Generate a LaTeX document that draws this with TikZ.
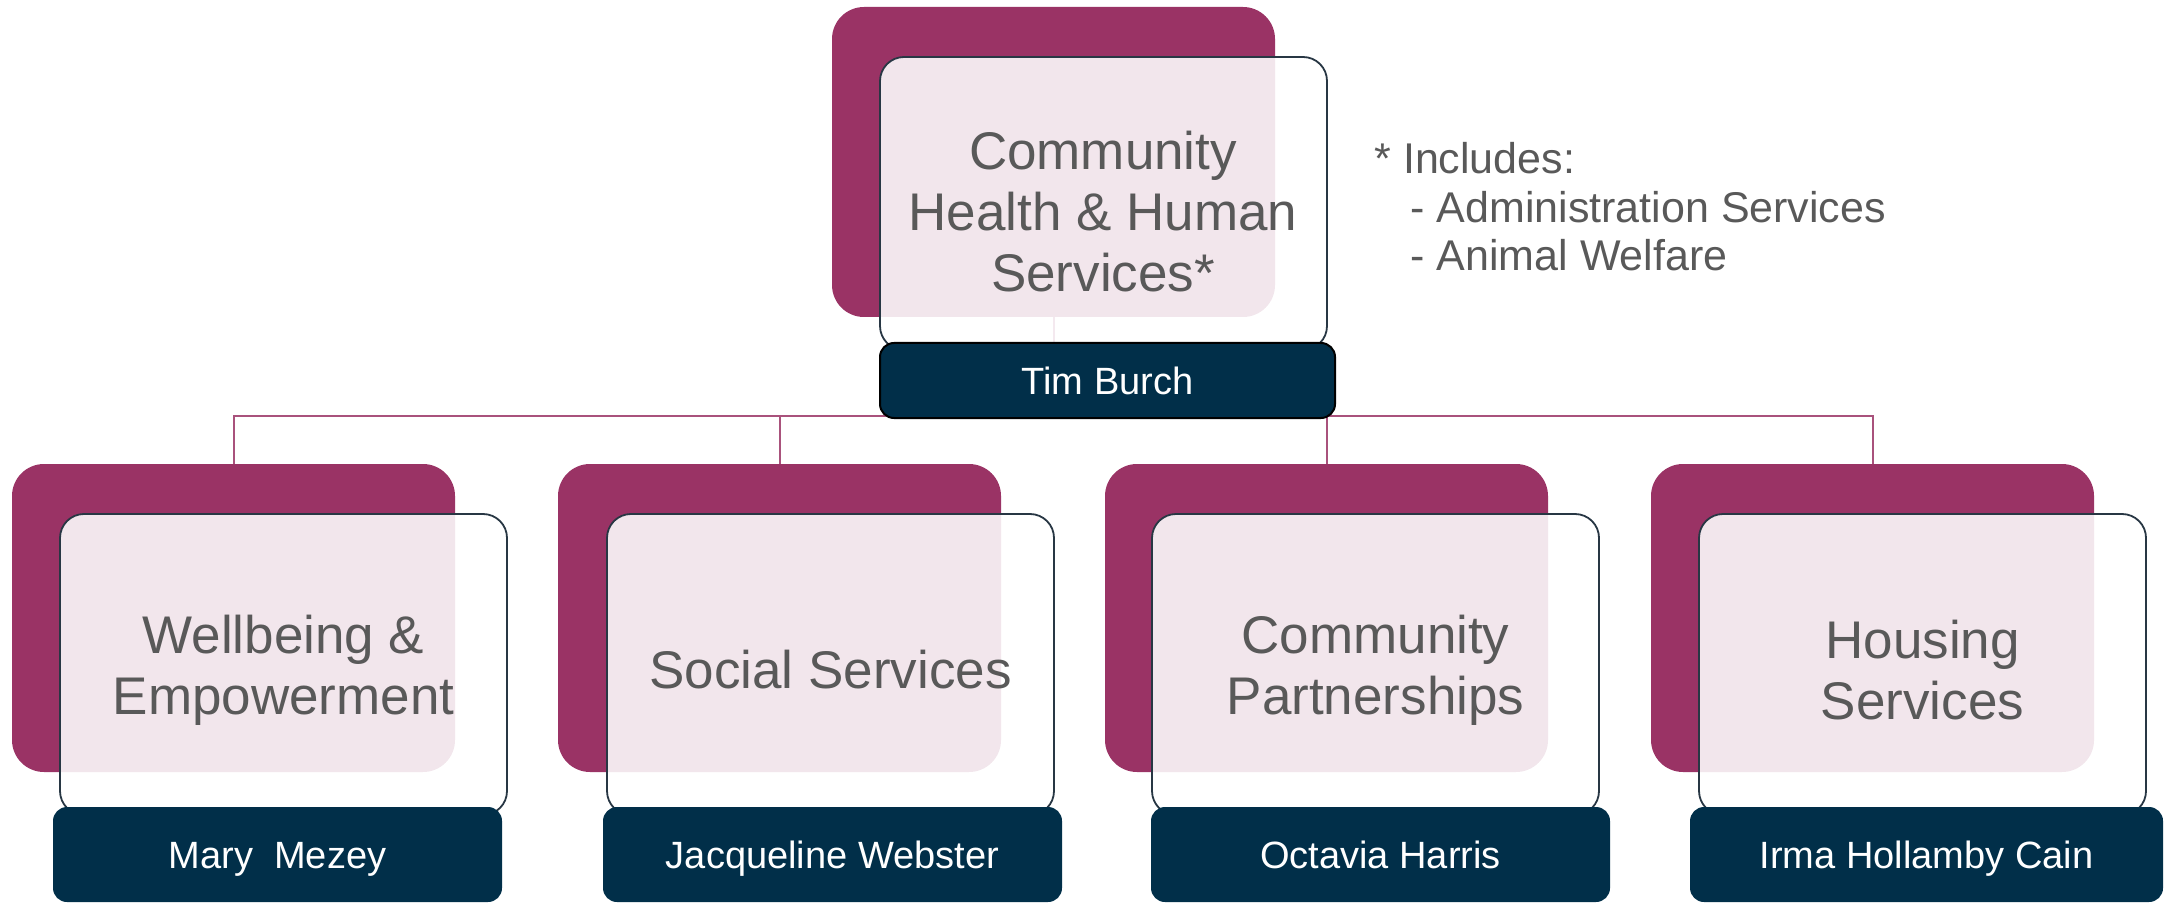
\documentclass[tikz,border=0pt]{standalone}
\usepackage{fontspec}
\setmainfont{Liberation Sans}
\definecolor{mag}{RGB}{154,51,101}
\definecolor{navy}{RGB}{1,47,73}
\definecolor{txtgray}{RGB}{89,89,89}
\definecolor{edgec}{RGB}{40,55,68}
\pgfdeclarelayer{background}
\pgfsetlayers{background,main}
\begin{document}
\begin{tikzpicture}[x=0.5pt,y=-0.5pt,
  magbox/.style={fill=mag, draw=none, rounded corners=16pt, minimum width=221.5pt, minimum height=154pt, inner sep=0pt},
  whitebox/.style={fill=white, fill opacity=0.88, draw=edgec, line width=0.9pt, rounded corners=12pt, minimum width=223.5pt, minimum height=150.5pt, inner sep=0pt},
  namebox/.style={fill=navy, rounded corners=7pt, inner sep=0pt, minimum height=47.5pt, text=white, text height=13.6pt, text depth=0pt, font=\fontsize{19}{22}\selectfont},
  title/.style={text=txtgray, align=center, font=\fontsize{26.5}{30.5}\selectfont, inner sep=0pt},
  conn/.style={draw=mag!85!white, line width=1pt},
]
\useasboundingbox (0,0) rectangle (2172,903);
\coordinate (bus) at (0,416);

% top unit
\node[magbox, minimum height=155pt] (m0) at (1053.5,162) {};
\node[whitebox, minimum height=146.5pt] (w0) at (1103.5,203.5) {};
\node[namebox, draw=black, line width=1pt, minimum width=227.5pt, minimum height=37.5pt] (n0) at (1107.5,380.5) {Tim Burch};
\node[title] (t0) at (1103,212) {Community\\Health \& Human\\Services*};

% bottom units
\node[magbox] (m1) at (233.5,618) {};
\node[whitebox] (w1) at (283.5,664.5) {};
\node[namebox, minimum width=224.5pt] (n1) at (277.5,854.5) {Mary\ \ Mezey};
\node[title] (t1) at (283.5,670) {Wellbeing \&\\Empowerment};

\node[magbox] (m2) at (779.5,618) {};
\node[whitebox] (w2) at (830.5,664.5) {};
\node[namebox, minimum width=229.5pt] (n2) at (832.5,854.5) {Jacqueline Webster};
\node[title] (t2) at (830.5,670) {Social Services};

\node[magbox] (m3) at (1326.5,618) {};
\node[whitebox] (w3) at (1375.5,664.5) {};
\node[namebox, minimum width=229.5pt] (n3) at (1380.5,854.5) {Octavia Harris};
\node[title] (t3) at (1375.5,670) {Community\\Partnerships};

\node[magbox] (m4) at (1872.5,618) {};
\node[whitebox] (w4) at (1922.5,664.5) {};
\node[namebox, minimum width=236.5pt] (n4) at (1926.5,854.5) {Irma Hollamby Cain};
\node[title] (t4) at (1922.5,670) {Housing\\Services};

% note
\node[anchor=west, align=left, text=txtgray, font=\fontsize{21.5}{24.3}\selectfont, inner sep=0pt] (inc) at (1374,207)
  {* Includes:\\\hspace*{18pt}- Administration Services\\\hspace*{18pt}- Animal Welfare};

% connectors
\begin{pgfonlayer}{background}
\draw[conn] (m0.south) -- (m0.south |- bus) -| (m1.north);
\draw[conn] (m0.south |- bus) -| (m2.north);
\draw[conn] (m0.south |- bus) -| (m3.north);
\draw[conn] (m0.south |- bus) -| (m4.north);
\end{pgfonlayer}
\end{tikzpicture}
\end{document}
